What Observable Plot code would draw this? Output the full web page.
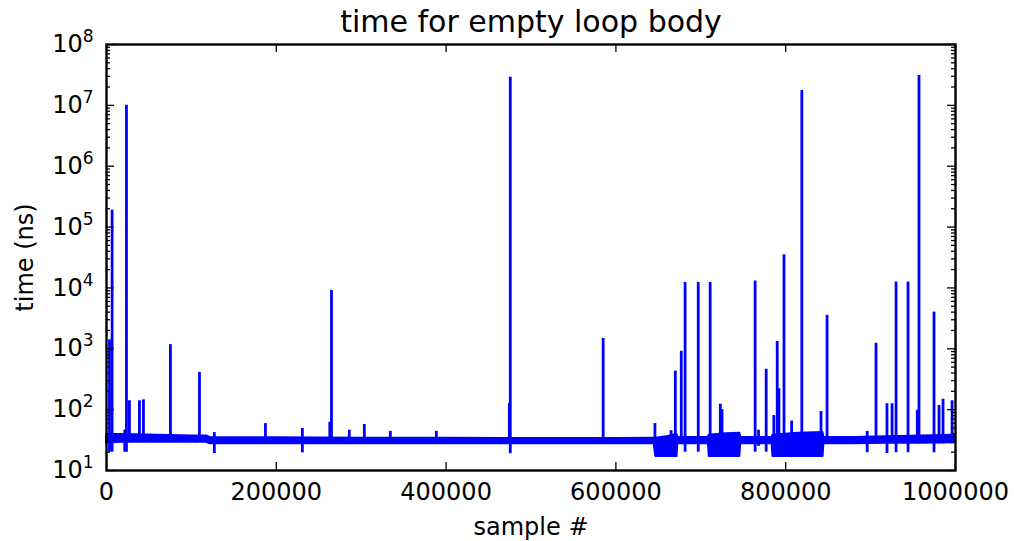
<!DOCTYPE html>
<html>
<head>
<meta charset="utf-8">
<script src="https://cdn.jsdelivr.net/npm/d3@7"></script>
<script src="https://cdn.jsdelivr.net/npm/@observablehq/plot@0.6"></script>
<style>
  html, body { margin: 0; padding: 0; background: #fff; }
  svg { display: block; }
</style>
</head>
<body>
<div id="chart"></div>
<script>
// ---- data ----
// baseline noise band of the loop timings (sample #, low ns, high ns)
const bandX  = [0, 5000, 20000, 60000, 100000, 118000, 122000, 200000, 300000, 400000, 500000, 600000, 645000, 647000, 660000, 672000, 673000, 700000, 709000, 710000, 730000, 746000, 747000, 770000, 784000, 785000, 815000, 844000, 845000, 880000, 920000, 960000, 1000000];
const bandLo = [28, 28.5, 29, 29, 29, 29, 27.5, 27.5, 27.5, 27.5, 27.5, 27.5, 27.5, 17, 17, 17, 27.5, 27.5, 27.5, 17, 17, 17, 27.5, 27.5, 27.5, 17, 17, 17, 27.5, 27.5, 28, 28, 28.5];
const bandHi = [38, 39, 39, 38, 37, 37, 35, 34.5, 34, 34, 33.5, 33.5, 34, 34, 36, 39, 35, 35, 35, 38, 40, 41, 35, 35, 35, 38, 41, 42, 35, 35, 36, 37, 38];

// spikes: sample #, peak (ns), lowest value (ns)
const spikeX   = [3500, 6600, 21500, 23500, 27000, 38800, 43500, 75300, 109500, 127000, 187200, 230700, 263000, 265000, 286000, 303700, 334300, 388500, 474500, 475600, 585000, 646000, 665000, 670000, 677000, 681500, 697000, 711000, 723000, 725000, 764000, 768000, 777000, 786000, 790000, 792000, 798000, 807000, 819000, 841600, 848700, 896000, 906400, 919300, 925300, 930000, 944100, 955000, 957000, 974700, 980600, 985300, 996000];
const spikeTop = [1400, 190000, 46, 10000000, 140, 140, 145, 1170, 410, 42, 59, 49, 62, 9100, 46, 57, 44, 44, 126, 29000000, 1480, 59, 45, 430, 910, 12300, 12300, 12300, 123, 100, 13000, 46, 460, 80, 1320, 220, 35000, 65, 17500000, 93, 3550, 44, 1230, 125, 125, 12500, 12500, 98, 31000000, 4000, 117, 148, 140];
const spikeLow = [20, 20, 20, 20, 29, 29, 29, 29, 29, 19, 27.5, 19.5, 27.5, 27.5, 27.5, 27.5, 27.5, 27.5, 27.5, 18.8, 27.5, 27.5, 17, 27.5, 27.5, 20, 20, 20, 27.5, 27.5, 20, 25, 20, 20, 20, 20, 20, 17, 20, 27.5, 27.5, 19.6, 27.5, 19, 27.5, 19.6, 19.6, 27.5, 27.5, 19.6, 27.5, 27.5, 27.5];

// axis ticks
const xTicks = [0, 200000, 400000, 600000, 800000, 1000000];
const yExponents = [1, 2, 3, 4, 5, 6, 7, 8];
const yMinorMultipliers = [2, 3, 4, 5, 6, 7, 8, 9];

// ---- derived tables ----
const band = bandX.map((x, i) => ({x, lo: bandLo[i], hi: bandHi[i]}));
const spikes = spikeX.map((x, i) => ({x, top: spikeTop[i], low: spikeLow[i]}));
const yMajor = yExponents.map(e => Math.pow(10, e));
const yMinor = [];
for (const e of yExponents.slice(0, -1)) for (const m of yMinorMultipliers) yMinor.push(m * Math.pow(10, e));

const W = 1014, H = 541;
const mL = 106, mR = 59, mT = 44, mB = 71;
const pw = W - mL - mR, ph = H - mT - mB;
const blue = "#0000ff";
const tickStroke = {stroke: "black", strokeWidth: 1.3};

const chart = Plot.plot({
  width: W,
  height: H,
  marginLeft: mL,
  marginRight: mR,
  marginTop: mT,
  marginBottom: mB,
  style: {fontFamily: "'DejaVu Sans', sans-serif", fontSize: "24px", background: "#fff", color: "black"},
  x: {domain: [0, 1000000], axis: null},
  y: {type: "log", domain: [10, 1e8], axis: null},
  marks: [
    Plot.areaY(band, {x: "x", y1: "lo", y2: "hi", fill: blue, stroke: blue, strokeWidth: 2}),
    Plot.ruleX(spikes, {x: "x", y1: "low", y2: "top", stroke: blue, strokeWidth: 2.8}),
    // inward ticks on all four sides
    Plot.tickY(yMajor, {y: d => d, insetRight: pw - 8, ...tickStroke}),
    Plot.tickY(yMajor, {y: d => d, insetLeft: pw - 8, ...tickStroke}),
    Plot.tickY(yMinor, {y: d => d, insetRight: pw - 4, ...tickStroke}),
    Plot.tickY(yMinor, {y: d => d, insetLeft: pw - 4, ...tickStroke}),
    Plot.tickX(xTicks, {x: d => d, insetTop: ph - 8, ...tickStroke}),
    Plot.tickX(xTicks, {x: d => d, insetBottom: ph - 8, ...tickStroke}),
    // tick labels
    Plot.axisY(yMajor, {anchor: "left", tickSize: 0, tickPadding: 13, fontSize: 24, label: null,
      tickFormat: d => "10|" + Math.round(Math.log10(d))}),
    Plot.axisX(xTicks, {anchor: "bottom", tickSize: 0, tickPadding: 12, fontSize: 24, label: null,
      tickFormat: d => String(d)}),
    Plot.frame({stroke: "black", strokeWidth: 2.4}),
    // title and axis titles
    Plot.text(["time for empty loop body"], {frameAnchor: "top", dy: -22, lineAnchor: "middle", fontSize: 30, fill: "black"}),
    Plot.text(["sample #"], {frameAnchor: "bottom", dy: 57, lineAnchor: "middle", fontSize: 24, fill: "black"}),
    Plot.text(["time (ns)"], {frameAnchor: "left", dx: -81, rotate: -90, textAnchor: "middle", lineAnchor: "middle", fontSize: 24, fill: "black"})
  ]
});

// render y tick labels as 10 with a superscript exponent
chart.querySelectorAll('g[aria-label="y-axis tick label"] text').forEach(t => {
  const s = t.textContent;
  if (!s.includes("|")) return;
  const [base, exp] = s.split("|");
  t.textContent = base;
  const ts = document.createElementNS("http://www.w3.org/2000/svg", "tspan");
  ts.setAttribute("dy", "-10");
  ts.setAttribute("font-size", "17");
  ts.textContent = exp;
  t.appendChild(ts);
});

document.getElementById("chart").appendChild(chart);
</script>
</body>
</html>
